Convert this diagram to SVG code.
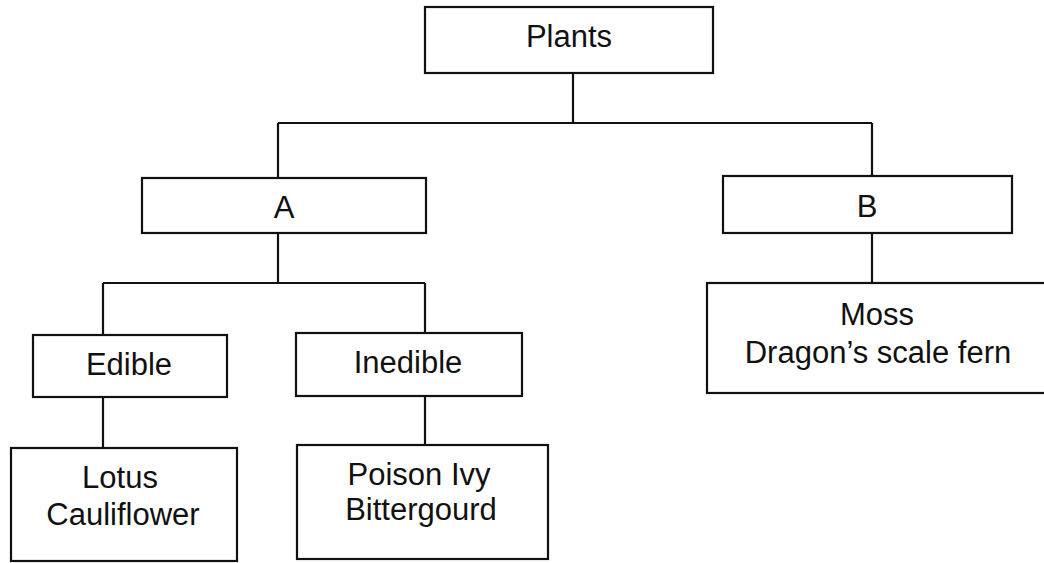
<svg xmlns="http://www.w3.org/2000/svg" width="1044" height="563" viewBox="0 0 1044 563">
<style>
.box{fill:#fff;stroke:#111;stroke-width:2.2}
.lbl{font-family:"Liberation Sans",Arial,sans-serif;font-size:31px;fill:#111;text-anchor:middle}
.con{fill:none;stroke:#111;stroke-width:2.2}
</style>
<rect width="1044" height="563" fill="#fff"/>
<g id="connectors">
<path class="con" d="M573,73 V123 M278,123 H872 M278,123 V178 M872,123 V176"/>
<path class="con" d="M278,233 V283 M103,283 H425 M103,283 V335 M425,283 V333"/>
<path class="con" d="M872,233 V283"/>
<path class="con" d="M103,397 V448 M425,396 V445"/>
</g>
<g id="plants"><rect class="box" x="425" y="7" width="288" height="66"/><text class="lbl" x="569" y="47">Plants</text></g>
<g id="a"><rect class="box" x="142" y="178" width="284" height="55"/><text class="lbl" x="284" y="218">A</text></g>
<g id="b"><rect class="box" x="723" y="176" width="289" height="57"/><text class="lbl" x="867" y="217">B</text></g>
<g id="moss"><rect class="box" x="707" y="283" width="345" height="110"/><text class="lbl" x="877" y="325">Moss</text><text class="lbl" x="878" y="363">Dragon’s scale fern</text></g>
<g id="edible"><rect class="box" x="33" y="335" width="194" height="62"/><text class="lbl" x="129" y="375">Edible</text></g>
<g id="inedible"><rect class="box" x="296" y="333" width="226" height="63"/><text class="lbl" x="408" y="373">Inedible</text></g>
<g id="lotus"><rect class="box" x="11" y="448" width="226" height="113"/><text class="lbl" x="120" y="488">Lotus</text><text class="lbl" x="123" y="525">Cauliflower</text></g>
<g id="poison"><rect class="box" x="297" y="445" width="251" height="114"/><text class="lbl" x="419" y="485">Poison Ivy</text><text class="lbl" x="421" y="520">Bittergourd</text></g>
</svg>
